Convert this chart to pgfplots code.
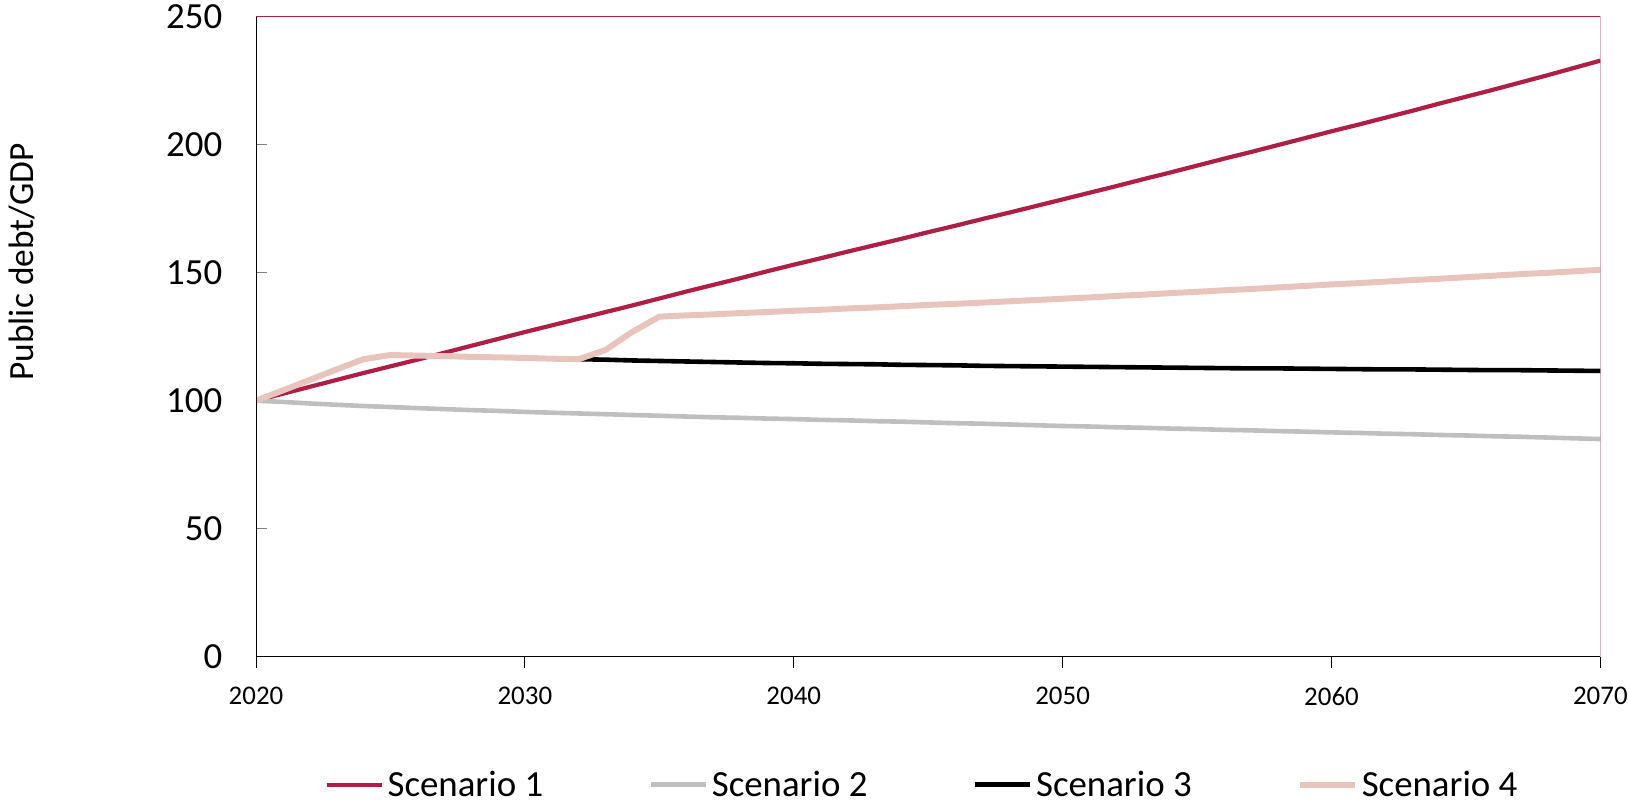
\documentclass[border=0pt]{standalone}
\usepackage{fontspec}
\setmainfont{Carlito}
\usepackage{pgfplots}
\usepackage{pgfplotstable}
\pgfplotsset{compat=1.18}

\definecolor{sone}{RGB}{174,30,69}
\definecolor{stwo}{RGB}{191,191,191}
\definecolor{sfour}{RGB}{233,196,189}

% Public debt/GDP paths, one table per scenario
\pgfplotstableread{
year val
2020 100.0
2021 102.7
2022 105.4
2023 108.1
2024 110.8
2025 113.4
2026 116.0
2027 118.7
2028 121.4
2029 124.1
2030 126.8
2031 129.4
2032 132.0
2033 134.6
2034 137.2
2035 139.9
2036 142.6
2037 145.2
2038 147.8
2039 150.5
2040 153.1
2041 155.6
2042 158.2
2043 160.7
2044 163.2
2045 165.8
2046 168.3
2047 170.9
2048 173.4
2049 176.0
2050 178.6
2051 181.2
2052 183.8
2053 186.5
2054 189.1
2055 191.8
2056 194.5
2057 197.1
2058 199.8
2059 202.5
2060 205.2
2061 207.8
2062 210.5
2063 213.2
2064 216.0
2065 218.7
2066 221.4
2067 224.2
2068 227.0
2069 229.9
2070 232.8
}\scenA

\pgfplotstableread{
year val
2020 100.0
2021 99.5
2022 98.9
2023 98.4
2024 97.9
2025 97.5
2026 97.1
2027 96.7
2028 96.3
2029 96.0
2030 95.6
2031 95.3
2032 95.0
2033 94.7
2034 94.4
2035 94.1
2036 93.8
2037 93.5
2038 93.3
2039 93.0
2040 92.8
2041 92.5
2042 92.3
2043 92.0
2044 91.8
2045 91.5
2046 91.2
2047 91.0
2048 90.7
2049 90.4
2050 90.1
2051 89.9
2052 89.6
2053 89.4
2054 89.1
2055 88.9
2056 88.6
2057 88.4
2058 88.1
2059 87.9
2060 87.6
2061 87.4
2062 87.1
2063 86.9
2064 86.6
2065 86.4
2066 86.1
2067 85.9
2068 85.6
2069 85.3
2070 85.0
}\scenB

\pgfplotstableread{
year val
2020 100.0
2021 104.0
2022 108.1
2023 112.2
2024 116.2
2025 117.8
2026 117.6
2027 117.4
2028 117.1
2029 116.9
2030 116.7
2031 116.4
2032 116.2
2033 116.0
2034 115.7
2035 115.5
2036 115.3
2037 115.1
2038 114.9
2039 114.7
2040 114.6
2041 114.4
2042 114.3
2043 114.2
2044 114.0
2045 113.9
2046 113.8
2047 113.6
2048 113.5
2049 113.4
2050 113.3
2051 113.2
2052 113.1
2053 113.0
2054 112.9
2055 112.8
2056 112.7
2057 112.6
2058 112.6
2059 112.5
2060 112.4
2061 112.3
2062 112.2
2063 112.2
2064 112.1
2065 112.0
2066 111.9
2067 111.9
2068 111.8
2069 111.7
2070 111.6
}\scenC

\pgfplotstableread{
year val
2020 100.0
2021 104.0
2022 108.1
2023 112.2
2024 116.2
2025 117.8
2026 117.6
2027 117.4
2028 117.1
2029 116.9
2030 116.7
2031 116.4
2032 116.2
2033 119.8
2034 126.9
2035 132.8
2036 133.3
2037 133.7
2038 134.2
2039 134.6
2040 135.1
2041 135.5
2042 136.0
2043 136.4
2044 136.9
2045 137.4
2046 137.8
2047 138.3
2048 138.8
2049 139.3
2050 139.8
2051 140.3
2052 140.9
2053 141.4
2054 142.0
2055 142.5
2056 143.1
2057 143.6
2058 144.2
2059 144.8
2060 145.4
2061 145.9
2062 146.5
2063 147.1
2064 147.6
2065 148.2
2066 148.8
2067 149.4
2068 149.9
2069 150.5
2070 151.1
}\scenD

\begin{document}
\begin{tikzpicture}
\path[use as bounding box] (0bp,0bp) rectangle (1629bp,804bp);
\begin{axis}[
  at={(256bp,147.3bp)}, anchor=south west,
  scale only axis, width=1344.4bp, height=640.1bp,
  xmin=2020, xmax=2070, ymin=0, ymax=250,
  xtick={2020,2030,...,2070}, ytick={0,50,...,250},
  xtick pos=bottom, ytick pos=left,
  xtick align=outside, ytick align=inside,
  major tick length=11bp,
  xtick style={black, line width=0.8bp},
  ytick style={gray, line width=1.2bp},
  axis line style={draw=none},
  /pgf/number format/1000 sep={},
  /pgf/number format/assume math mode=true,
  xticklabel style={font=\fontsize{27}{32}\selectfont, inner sep=0pt, anchor=north, yshift=-19bp},
  yticklabel style={font=\fontsize{37}{44}\selectfont, inner sep=0pt, anchor=east, xshift=-33.6bp},
  legend columns=4,
  legend style={at={(axis description cs:0.4946,-0.2)}, anchor=center,
    draw=none, fill=none, font=\fontsize{37}{44}\selectfont,
    /tikz/every odd column/.append style={column sep=4bp},
    /tikz/every even column/.append style={column sep=105bp},
    nodes={inner sep=0pt}},
  legend image code/.code={\draw[#1] (0bp,0bp) -- (55bp,0bp);},
]
\addplot[sone, line width=4.2bp] table[x=year, y=val] {\scenA};
\addlegendentry{Scenario 1}
\addplot[stwo, line width=4.6bp] table[x=year, y=val] {\scenB};
\addlegendentry{Scenario 2}
\addplot[black, line width=4.6bp] table[x=year, y=val] {\scenC};
\addlegendentry{Scenario 3}
\addplot[sfour, line width=6bp] table[x=year, y=val] {\scenD};
\addlegendentry{Scenario 4}
% frame: dark on the value sides, crimson on the opposite sides
\draw[sone, line width=1.2bp] (rel axis cs:0,1) -- (rel axis cs:1,1) -- (rel axis cs:1,0);
\draw[black, line width=1.4bp] (rel axis cs:0,1) -- (rel axis cs:0,0) -- (rel axis cs:1,0);
\end{axis}
\node[rotate=90, anchor=base, font=\fontsize{35.5}{42}\selectfont] at (33bp,542bp) {Public debt/GDP};
\end{tikzpicture}
\end{document}
